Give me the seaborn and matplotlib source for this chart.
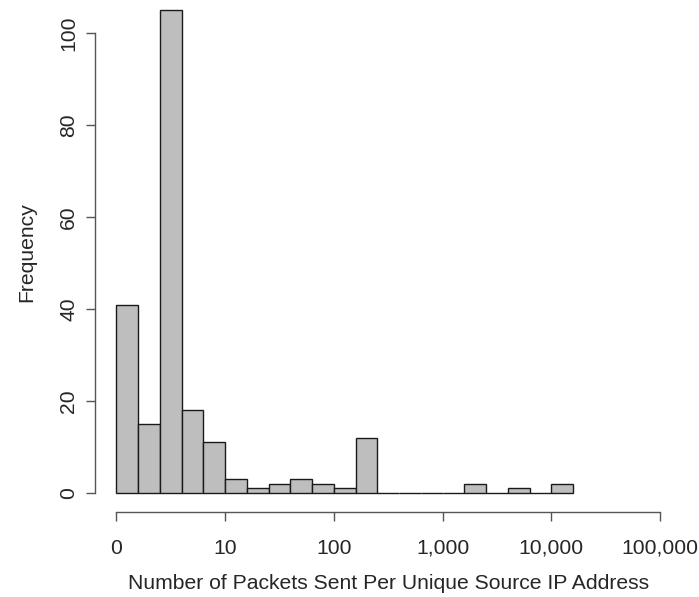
import numpy as np
import matplotlib
matplotlib.use("Agg")
import matplotlib.pyplot as plt
import seaborn as sns

# log10 bin edges (width 0.2) and counts
bin_edges = [0.0, 0.2, 0.4, 0.6, 0.8, 1.0, 1.2, 1.4, 1.6, 1.8, 2.0, 2.2,
             2.4, 2.6, 2.8, 3.0, 3.2, 3.4, 3.6, 3.8, 4.0, 4.2]
counts = [41, 15, 105, 18, 11, 3, 1, 2, 3, 2, 1, 12,
          0, 0, 0, 0, 2, 0, 1, 0, 2]
x_ticks = [0, 1, 2, 3, 4, 5]
x_tick_labels = ["0", "10", "100", "1,000", "10,000", "100,000"]
y_ticks = [0, 20, 40, 60, 80, 100]

sns.set_style("ticks")
plt.rcParams['font.family'] = ['Liberation Sans', 'DejaVu Sans']

fig = plt.figure(figsize=(6.99, 5.97), dpi=100)
ax = fig.add_axes([0.1355, 0.1419, 0.840, 0.873])

centers = [(a + b) / 2 for a, b in zip(bin_edges[:-1], bin_edges[1:])]
sns.histplot(x=centers, weights=counts, bins=bin_edges, ax=ax,
             color="#BEBEBE", edgecolor="#1a1a1a", linewidth=1.0, alpha=1.0)

ax.set_xlim(-0.2, 5.2)
ax.set_ylim(-4.2, 109.2)

fs = 15.2
ax.set_xticks(x_ticks)
ax.set_xticklabels(x_tick_labels, fontsize=fs)
ax.set_yticks(y_ticks)
ax.set_yticklabels([str(v) for v in y_ticks], fontsize=fs, rotation=90, va="center")

for side in ["top", "right"]:
    ax.spines[side].set_visible(False)
for side in ["left", "bottom"]:
    ax.spines[side].set_color("#555555")
    ax.spines[side].set_linewidth(1.0)
ax.spines["left"].set_bounds(0, 100)
ax.spines["bottom"].set_bounds(0, 5)
ax.tick_params(axis="both", direction="out", length=6.5, width=1.0, color="#555555")
ax.tick_params(axis="x", pad=12.5)
ax.tick_params(axis="y", pad=5.5)

ax.set_xlabel("Number of Packets Sent Per Unique Source IP Address", fontsize=fs, labelpad=11.5)
ax.set_ylabel("Frequency", fontsize=fs, labelpad=16.5)

fig.savefig("out.png", dpi=100)
